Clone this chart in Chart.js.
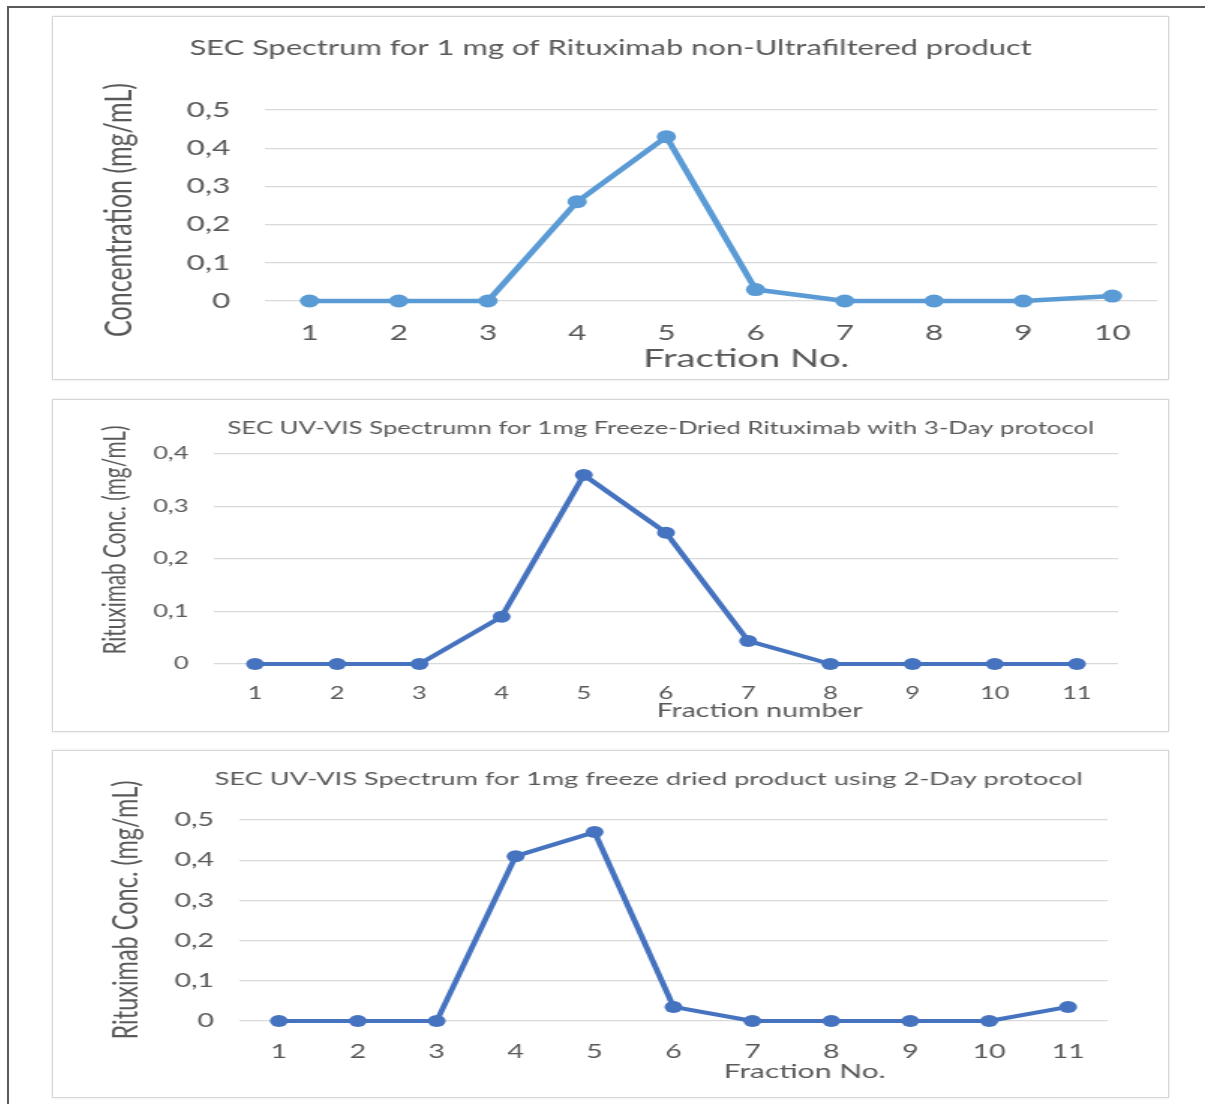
<!DOCTYPE html>
<html>
<head>
<meta charset="utf-8">
<title>SEC spectra</title>
<script src="https://cdn.jsdelivr.net/npm/chart.js@4.4.1/dist/chart.umd.min.js"></script>
<style>
  body { margin: 0; background: #fff; }
  .frame { position: absolute; left: 7px; top: 6px; width: 1198px; height: 1098px;
           border-top: 2px solid #5a5a5a; border-left: 2px solid #5a5a5a; }
  .panel { position: absolute; left: 52px; width: 1115px; border: 1px solid #d6d6d6;
           box-shadow: 0 0 2px rgba(0,0,0,0.12); background: #fff; }
  canvas { position: absolute; left: 52px; }
</style>
</head>
<body>
<div class="frame"></div>
<div class="panel" style="top:16px;height:362px"></div>
<div class="panel" style="top:399px;height:331px"></div>
<div class="panel" style="top:750px;height:346px"></div>
<canvas id="chart1" width="745" height="364" style="top:16px;width:1117px;height:364px"></canvas>
<canvas id="chart2" width="745" height="333" style="top:399px;width:1117px;height:333px"></canvas>
<canvas id="chart3" width="745" height="348" style="top:750px;width:1117px;height:348px"></canvas>

<script>
// SEC fractions and measured concentrations (mg/mL)
const fractions1 = ['1', '2', '3', '4', '5', '6', '7', '8', '9', '10'];
const conc1 = [0, 0, 0, 0.26, 0.43, 0.03, 0, 0, 0, 0.013];
const yTicks1 = ['0', '0,1', '0,2', '0,3', '0,4', '0,5'];

const fractions2 = ['1', '2', '3', '4', '5', '6', '7', '8', '9', '10', '11'];
const conc2 = [0, 0, 0, 0.09, 0.36, 0.25, 0.044, 0, 0, 0, 0];
const yTicks2 = ['0', '0,1', '0,2', '0,3', '0,4'];

const fractions3 = ['1', '2', '3', '4', '5', '6', '7', '8', '9', '10', '11'];
const conc3 = [0, 0, 0, 0.41, 0.47, 0.035, 0, 0, 0, 0, 0.035];
const yTicks3 = ['0', '0,1', '0,2', '0,3', '0,4', '0,5'];

const FONT = 'Lato, "Open Sans", sans-serif';
const TEXT = '#595959';

// draws chart title and both axis titles at fixed spots on the canvas
const captions = {
    id: 'captions',
    afterDraw(chart, args, opts) {
        const ctx = chart.ctx;
        ctx.save();
        ctx.fillStyle = TEXT;
        ctx.textAlign = 'center';
        ctx.textBaseline = 'middle';

        ctx.font = `${opts.title.size}px ${FONT}`;
        ctx.fillText(opts.title.text, opts.title.x, opts.title.y);

        ctx.font = `${opts.xTitle.size}px ${FONT}`;
        ctx.fillText(opts.xTitle.text, opts.xTitle.x, opts.xTitle.y);

        ctx.translate(opts.yTitle.x, opts.yTitle.y);
        ctx.rotate(-Math.PI / 2);
        ctx.font = `${opts.yTitle.size}px ${FONT}`;
        ctx.fillText(opts.yTitle.text, 0, 0);
        ctx.restore();
    }
};

function makeChart(id, labels, values, yTicks, color, box, text) {
    const canvas = document.getElementById(id);
    const max = (yTicks.length - 1) / 10;
    return new Chart(canvas.getContext('2d'), {
        type: 'line',
        data: {
            labels: labels,
            datasets: [{
                data: values,
                borderColor: color,
                backgroundColor: color,
                borderWidth: box.lineWidth,
                borderJoinStyle: 'round',
                borderCapStyle: 'round',
                pointRadius: box.pointRadius,
                pointBorderWidth: 0,
                tension: 0,
                clip: false
            }]
        },
        options: {
            responsive: false,
            devicePixelRatio: 1,
            animation: false,
            layout: {
                padding: { left: 0, top: box.top, right: canvas.width - box.right, bottom: 0 }
            },
            plugins: {
                legend: { display: false },
                title: { display: false },
                tooltip: { enabled: false },
                captions: text
            },
            scales: {
                x: {
                    offset: true,
                    grid: { display: false },
                    border: { display: false },
                    ticks: {
                        color: TEXT,
                        font: { family: FONT, size: box.tickSize },
                        padding: box.xPad,
                        maxRotation: 0,
                        autoSkip: false
                    },
                    afterFit(scale) { scale.height = canvas.height - box.bottom; }
                },
                y: {
                    min: 0,
                    max: max,
                    grid: { color: '#d9d9d9', lineWidth: 1.3, drawTicks: false },
                    border: { display: false },
                    ticks: {
                        stepSize: 0.1,
                        color: TEXT,
                        font: { family: FONT, size: box.tickSize },
                        padding: box.yPad,
                        callback: v => yTicks[Math.round(v * 10)]
                    },
                    afterFit(scale) { scale.width = box.left; }
                }
            }
        },
        plugins: [captions]
    });
}

makeChart('chart1', fractions1, conc1, yTicks1, '#5b9bd5',
    { left: 142, right: 737, top: 94, bottom: 285, tickSize: 21, xPad: 12, yPad: 23, lineWidth: 4.5, pointRadius: 6.5 },
    {
        title: { text: 'SEC Spectrum for 1 mg of Rituximab non-Ultrafiltered product', x: 372.5, y: 32, size: 20.6 },
        xTitle: { text: 'Fraction No.', x: 463, y: 343, size: 25.5 },
        yTitle: { text: 'Concentration (mg/mL)', x: 45, y: 194, size: 25 }
    });

makeChart('chart2', fractions2, conc2, yTicks2, '#4673bf',
    { left: 108, right: 711, top: 55, bottom: 265, tickSize: 17, xPad: 11, yPad: 17, lineWidth: 4, pointRadius: 6 },
    {
        title: { text: 'SEC UV-VIS Spectrumn for 1mg Freeze-Dried Rituximab with 3-Day protocol', x: 406, y: 29, size: 17.2 },
        xTitle: { text: 'Fraction number', x: 472, y: 312, size: 19 },
        yTitle: { text: 'Rituximab Conc. (mg/mL)', x: 42, y: 141, size: 20.8 }
    });

makeChart('chart3', fractions3, conc3, yTicks3, '#4673bf',
    { left: 125, right: 704, top: 70, bottom: 271, tickSize: 19, xPad: 11, yPad: 17, lineWidth: 4, pointRadius: 6 },
    {
        title: { text: 'SEC UV-VIS Spectrum for 1mg freeze dried product using 2-Day protocol', x: 398, y: 29, size: 18.1 },
        xTitle: { text: 'Fraction No.', x: 502, y: 322, size: 20 },
        yTitle: { text: 'Rituximab Conc. (mg/mL)', x: 49, y: 160, size: 23.5 }
    });
</script>
</body>
</html>
